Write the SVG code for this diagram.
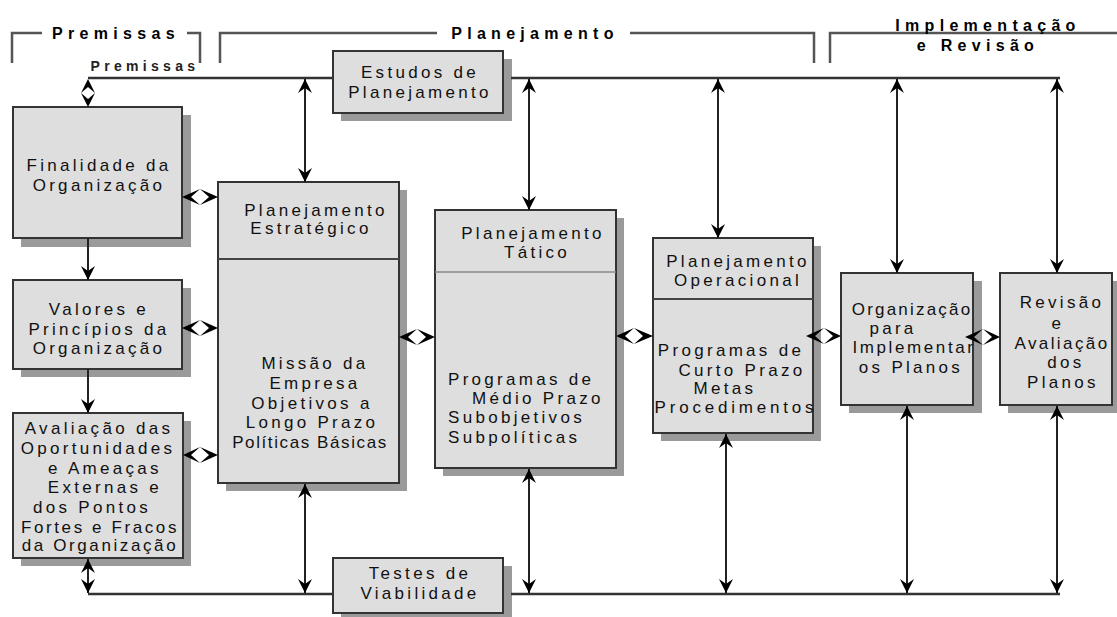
<svg xmlns="http://www.w3.org/2000/svg" width="1117" height="617" viewBox="0 0 1117 617">
<style>
.bg{fill:#ffffff}
.sh{fill:#9a9a9a}
.box{fill:#dedede;stroke:#333;stroke-width:2}
.div{stroke:#444;stroke-width:2}
.t{font-family:"Liberation Sans",Arial,sans-serif;font-size:17px;letter-spacing:3.3px;fill:#111;text-anchor:middle}
.ts{text-anchor:start}
.h{font-family:"Liberation Sans",Arial,sans-serif;font-size:16px;font-weight:bold;letter-spacing:5.3px;fill:#000;text-anchor:middle}
.hs{font-family:"Liberation Sans",Arial,sans-serif;font-size:14px;font-weight:bold;letter-spacing:4.3px;fill:#222;text-anchor:middle}
.br{fill:none;stroke:#555;stroke-width:2.5}
.bus{fill:none;stroke:#333;stroke-width:2.5}
.ln{fill:none;stroke:#222;stroke-width:2}
.hd{fill:#000}
</style>
<defs>
<marker id="ah" markerUnits="userSpaceOnUse" viewBox="0 0 14 14" refX="14" refY="7" markerWidth="14" markerHeight="14" orient="auto-start-reverse">
<path d="M0,0 L14,7 L0,14 L5,7 Z" fill="#000"/>
</marker>
</defs>
<rect class="bg" x="0" y="0" width="1117" height="617"/>

<g id="headers">
<path class="br" d="M12 63 V33 H42"/>
<path class="br" d="M187 33 H200 V63"/>
<text class="h" x="116" y="39">Premissas</text>
<path class="br" d="M220 63 V33 H437"/>
<path class="br" d="M630 33 H814 V63"/>
<text class="h" x="535" y="39">Planejamento</text>
<path class="br" d="M830 63 V33 H1117"/>
<text class="h" x="988" y="31">Implementação</text>
<text class="h" x="978" y="51">e Revisão</text>
<text class="hs" x="145" y="71">Premissas</text>
</g>

<g id="estudos">
<rect class="sh" x="341" y="59" width="171" height="62"/>
<rect class="box" x="333" y="51" width="170" height="62"/>
<text class="t" x="420" y="78">Estudos de</text>
<text class="t" x="420" y="98">Planejamento</text>
</g>

<g id="finalidade">
<rect class="sh" x="21" y="115" width="170" height="132"/>
<rect class="box" x="13" y="107" width="169" height="131"/>
<text class="t" x="99" y="171">Finalidade da</text>
<text class="t" x="99" y="191">Organização</text>
</g>

<g id="valores">
<rect class="sh" x="21" y="288" width="170" height="89"/>
<rect class="box" x="13" y="280" width="169" height="89"/>
<text class="t" x="99" y="315">Valores e</text>
<text class="t" x="99" y="335">Princípios da</text>
<text class="t" x="99" y="354">Organização</text>
</g>

<g id="avaliacao">
<rect class="sh" x="21" y="421" width="170" height="145"/>
<rect class="box" x="13" y="413" width="170" height="145"/>
<text class="t" x="99" y="434">Avaliação das</text>
<text class="t" x="98" y="454">Oportunidades</text>
<text class="t" x="105" y="474">e Ameaças</text>
<text class="t" x="105" y="493">Externas e</text>
<text class="t" x="92" y="513">dos Pontos</text>
<text class="t" x="100" y="533" style="letter-spacing:2.6px">Fortes e Fracos</text>
<text class="t" x="100" y="551" style="letter-spacing:2.6px">da Organização</text>
</g>

<g id="estrategico">
<rect class="sh" x="226" y="190" width="181" height="301"/>
<rect class="box" x="218" y="182" width="181" height="301"/>
<line class="div" x1="218" y1="259" x2="399" y2="259"/>
<text class="t" x="316" y="216">Planejamento</text>
<text class="t" x="311" y="234">Estratégico</text>
<text class="t" x="315" y="369">Missão da</text>
<text class="t" x="315" y="389">Empresa</text>
<text class="t" x="312" y="409">Objetivos a</text>
<text class="t" x="312" y="428">Longo Prazo</text>
<text class="t" x="310" y="448" style="letter-spacing:1.6px">Políticas Básicas</text>
</g>

<g id="tatico">
<rect class="sh" x="443" y="218" width="181" height="258"/>
<rect class="box" x="435" y="210" width="181" height="258"/>
<line x1="435" y1="272" x2="616" y2="272" stroke="#888" stroke-width="1.5"/>
<text class="t" x="533" y="239">Planejamento</text>
<text class="t" x="537" y="258">Tático</text>
<text class="t ts" x="448" y="385">Programas de</text>
<text class="t ts" x="472" y="404">Médio Prazo</text>
<text class="t ts" x="448" y="423">Subobjetivos</text>
<text class="t ts" x="448" y="443">Subpolíticas</text>
</g>

<g id="operacional">
<rect class="sh" x="661" y="246" width="160" height="195"/>
<rect class="box" x="653" y="238" width="160" height="195"/>
<line class="div" x1="653" y1="299" x2="813" y2="299"/>
<text class="t" x="738" y="267">Planejamento</text>
<text class="t" x="738" y="286">Operacional</text>
<text class="t" x="731" y="356">Programas de</text>
<text class="t" x="742" y="376">Curto Prazo</text>
<text class="t" x="725" y="394">Metas</text>
<text class="t" x="736" y="413" style="letter-spacing:3.8px">Procedimentos</text>
</g>

<g id="organizacao">
<rect class="sh" x="849" y="281" width="133" height="132"/>
<rect class="box" x="841" y="273" width="132" height="132"/>
<text class="t" x="912" y="315" style="letter-spacing:2.2px">Organização</text>
<text class="t" x="893" y="334">para</text>
<text class="t" x="914" y="353" style="letter-spacing:2.6px">Implementar</text>
<text class="t" x="911" y="373">os Planos</text>
</g>

<g id="revisao">
<rect class="sh" x="1008" y="281" width="112" height="132"/>
<rect class="box" x="1000" y="273" width="112" height="132"/>
<text class="t" x="1062" y="308">Revisão</text>
<text class="t" x="1058" y="329">e</text>
<text class="t" x="1062" y="349" style="letter-spacing:2.4px">Avaliação</text>
<text class="t" x="1066" y="368">dos</text>
<text class="t" x="1063" y="388">Planos</text>
</g>

<g id="testes">
<rect class="sh" x="341" y="566" width="171" height="56"/>
<rect class="box" x="333" y="558" width="170" height="55"/>
<text class="t" x="420" y="579">Testes de</text>
<text class="t" x="420" y="599">Viabilidade</text>
</g>

<g id="connectors">
<path class="bus" d="M88 78 H333"/>
<path class="bus" d="M511 78 H1060"/>
<path class="bus" d="M88 594 H333"/>
<path class="bus" d="M511 594 H1060"/>

<line class="ln" x1="305" y1="79" x2="305" y2="182" marker-start="url(#ah)" marker-end="url(#ah)"/>
<line class="ln" x1="529" y1="79" x2="529" y2="210" marker-start="url(#ah)" marker-end="url(#ah)"/>
<line class="ln" x1="718" y1="79" x2="718" y2="238" marker-start="url(#ah)" marker-end="url(#ah)"/>
<line class="ln" x1="897" y1="79" x2="897" y2="273" marker-start="url(#ah)" marker-end="url(#ah)"/>
<line class="ln" x1="1057" y1="79" x2="1057" y2="273" marker-start="url(#ah)" marker-end="url(#ah)"/>

<line class="ln" x1="88" y1="238" x2="88" y2="280" marker-end="url(#ah)"/>
<line class="ln" x1="88" y1="369" x2="88" y2="413" marker-end="url(#ah)"/>

<line class="ln" x1="88" y1="559" x2="88" y2="593" marker-start="url(#ah)" marker-end="url(#ah)"/>
<line class="ln" x1="305" y1="484" x2="305" y2="593" marker-start="url(#ah)" marker-end="url(#ah)"/>
<line class="ln" x1="529" y1="469" x2="529" y2="593" marker-start="url(#ah)" marker-end="url(#ah)"/>
<line class="ln" x1="726" y1="434" x2="726" y2="593" marker-start="url(#ah)" marker-end="url(#ah)"/>
<line class="ln" x1="907" y1="406" x2="907" y2="593" marker-start="url(#ah)" marker-end="url(#ah)"/>
<line class="ln" x1="1057" y1="406" x2="1057" y2="593" marker-start="url(#ah)" marker-end="url(#ah)"/>

<path class="hd" d="M88 79 L81 93 L88 87 L95 93 Z M88 107 L81 93 L88 99 L95 93 Z"/>
<path class="hd" d="M182 197 L200 189 L191 197 L200 205 Z M218 197 L200 189 L209 197 L200 205 Z"/>
<path class="hd" d="M182 328 L200 320 L191 328 L200 336 Z M218 328 L200 320 L209 328 L200 336 Z"/>
<path class="hd" d="M183 455 L200 447 L191 455 L200 463 Z M218 455 L200 447 L209 455 L200 463 Z"/>
<path class="hd" d="M399 337 L417 329 L408 337 L417 345 Z M435 337 L417 329 L426 337 L417 345 Z"/>
<path class="hd" d="M616 336 L634 328 L625 336 L634 344 Z M653 336 L634 328 L643 336 L634 344 Z"/>
<path class="hd" d="M806 336 L824 328 L815 336 L824 344 Z M841 336 L824 328 L833 336 L824 344 Z"/>
<path class="hd" d="M965 337 L983 329 L974 337 L983 345 Z M1000 337 L983 329 L992 337 L983 345 Z"/>
</g>
</svg>
